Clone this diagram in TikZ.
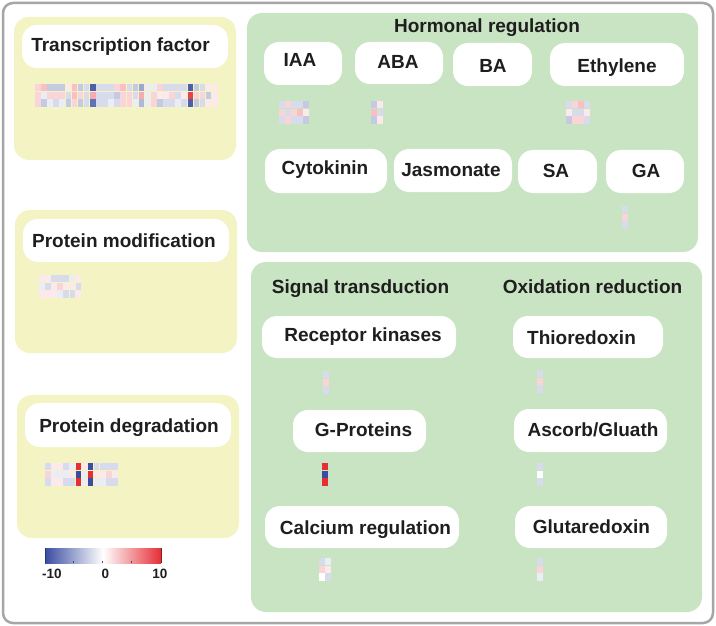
\documentclass[tikz,border=0pt]{standalone}
\usepackage{fontspec}
\setmainfont{Liberation Sans}
\definecolor{panelY}{HTML}{F3F3C3}
\definecolor{panelG}{HTML}{C8E4C2}
\definecolor{frameC}{HTML}{A6A6A6}
\definecolor{hmblue}{HTML}{3A4DA0}
\definecolor{hmred}{HTML}{E62E36}
\definecolor{txt}{HTML}{1E1E1E}
\newcommand\hmcell[3]{%
  \ifnum#3<0\relax
    \edef\hmc{hmblue!\number\numexpr -10*(#3)\relax!white}%
  \else
    \edef\hmc{hmred!\number\numexpr 10*(#3)\relax!white}%
  \fi
  \fill[\hmc] ({#1},{#2}) rectangle ++(5.6,7.3);}
\newcommand\hmrow[3]{\foreach \v [count=\i from 0] in {#3}{\hmcell{#1+\i*6.1}{#2}{\v}}}
\newcommand\heat[5]{\hmrow{#1}{#2}{#3}\hmrow{#1}{#2+7.7}{#4}\hmrow{#1}{#2+15.4}{#5}}
\begin{document}
\begin{tikzpicture}[x=1pt,y=-1pt,
  ypanel/.style={fill=panelY, rounded corners=15pt},
  gpanel/.style={fill=panelG, rounded corners=15pt},
  wbox/.style={fill=white, rounded corners=15pt},
  lbl/.style={font=\fontsize{19}{22}\selectfont\bfseries, text=txt, inner sep=0pt, anchor=base},
  cblbl/.style={font=\fontsize{13.5}{15}\selectfont\bfseries, text=txt, inner sep=0pt, anchor=base}]
\useasboundingbox (0,0) rectangle (716,626);
\fill[white] (0,0) rectangle (716,626);
\draw[line width=2.5pt, draw=frameC, rounded corners=10pt] (3,3) rectangle (713,623);
% panels
\fill[ypanel] (14,17) rectangle (236,160);
\fill[ypanel] (15,210) rectangle (237,353);
\fill[ypanel] (17,395) rectangle (239,538);
\fill[gpanel] (247,13) rectangle (698,252);
\fill[gpanel] (251,262) rectangle (702,612);
% white boxes
\fill[wbox] (22,25) rectangle (228,68);
\fill[wbox] (23,219) rectangle (229,262);
\fill[wbox] (25,403) rectangle (231,447);
\fill[wbox] (264,42) rectangle (342,85);
\fill[wbox] (355,42) rectangle (443,84);
\fill[wbox] (453,43) rectangle (532,86);
\fill[wbox] (550,43) rectangle (684,86);
\fill[wbox] (265,149) rectangle (387,193);
\fill[wbox] (394,149) rectangle (512,192);
\fill[wbox] (518,150) rectangle (597,193);
\fill[wbox] (606,150) rectangle (684,193);
\fill[wbox] (262,316) rectangle (456,358);
\fill[wbox] (293,410) rectangle (426,452);
\fill[wbox] (265,506) rectangle (459,548);
\fill[wbox] (513,316) rectangle (663,358);
\fill[wbox] (514,409) rectangle (667,452);
\fill[wbox] (515,506) rectangle (667,548);
% labels
\node[lbl] (tf) at (120.5,52) {Transcription factor};
\node[lbl] (pm) at (124,247) {Protein modification};
\node[lbl] (pd) at (129,432) {Protein degradation};
\node[lbl] (hr) at (487,33) {Hormonal regulation};
\node[lbl] (iaa) at (300,67) {IAA};
\node[lbl] (aba) at (398,69) {ABA};
\node[lbl] (ba) at (493,73) {BA};
\node[lbl] (eth) at (617,73) {Ethylene};
\node[lbl] (cyt) at (325,175) {Cytokinin};
\node[lbl] (jas) at (451,176) {Jasmonate};
\node[lbl] (sa) at (556,178) {SA};
\node[lbl] (ga) at (646,178) {GA};
\node[lbl] (st) at (360.5,293) {Signal transduction};
\node[lbl] (ox) at (592.5,293) {Oxidation reduction};
\node[lbl] (rk) at (363,341) {Receptor kinases};
\node[lbl] (gp) at (363.5,436) {G-Proteins};
\node[lbl] (ca) at (365.5,534) {Calcium regulation};
\node[lbl] (th) at (581.5,344) {Thioredoxin};
\node[lbl] (as) at (593,436) {Ascorb/Gluath};
\node[lbl] (gl) at (591.5,533) {Glutaredoxin};
% heatmaps
\heat{35}{84}{2,3,-3,-3,-3,1,3,-3,-2,-9,-2,-2,-2,2,3,-2,-3,-5,-1,-1,2,-2,-2,-2,-2,-9,-3,-2,1,1}
  {2,-1,2,2,2,-2,3,2,-2,4,-2,-2,-2,-3,2,2,-2,4,-1,2,1,1,2,-2,1,9,2,2,-3,1}
  {2,-3,-1,-2,-1,-3,2,-3,-2,-8,-2,-2,-1,-2,2,2,-1,-4,-1,2,-3,-2,-2,-1,-2,-9,-3,-2,1,1}
\heat{39}{275}{1,1,-2,-2,-2,-1,1}{-1,-2,1,2,1,1,-2}{1,1,1,-1,-2,-2,1}
\heat{45}{463}{-2,1,1,-2,-1,10,1,-10,-2,-2,-2,-2}{2,-1,-1,-1,1,-10,-1,10,1,1,2,1}{-2,1,1,-2,-2,10,-1,-10,-1,-1,-2,-2}
\heat{279}{101}{-2,2,-2,-2,-3}{2,-2,2,3,1}{-2,2,-2,-2,-3}
\heat{371}{101}{-3,1}{3,-2}{-3,1}
\heat{566}{101}{-2,2,3,-2}{1,-2,-2,1}{-3,2,2,-2}
\heat{622}{206}{-2}{2}{-2}
\heat{323}{371}{-2}{2}{-2}
\heat{322}{463}{10}{-10}{10}
\heat{319}{558}{-2,-1}{2,1}{0,-2}
\heat{537}{370}{-2}{2}{-2}
\heat{537}{463}{-2}{0}{-2}
\heat{537}{558}{-2}{2}{-1}
% colour bar
\shade[left color=hmblue, right color=hmred, middle color=white] (45,548) rectangle (161,563);
\draw[line width=0.8pt, hmblue!70!black] (45,548) -- (45,563);
\draw[line width=0.8pt, hmred!60!black] (161,548) -- (161,563);
\foreach \t in {73.3,102.7,131.7} \draw[line width=0.6pt, black!70] (\t,560.5) -- (\t,563);
\node[cblbl] (cbm) at (52,578) {-10};
\node[cblbl] (cbz) at (105.5,578) {0};
\node[cblbl] (cbp) at (160,578) {10};
\end{tikzpicture}
\end{document}
